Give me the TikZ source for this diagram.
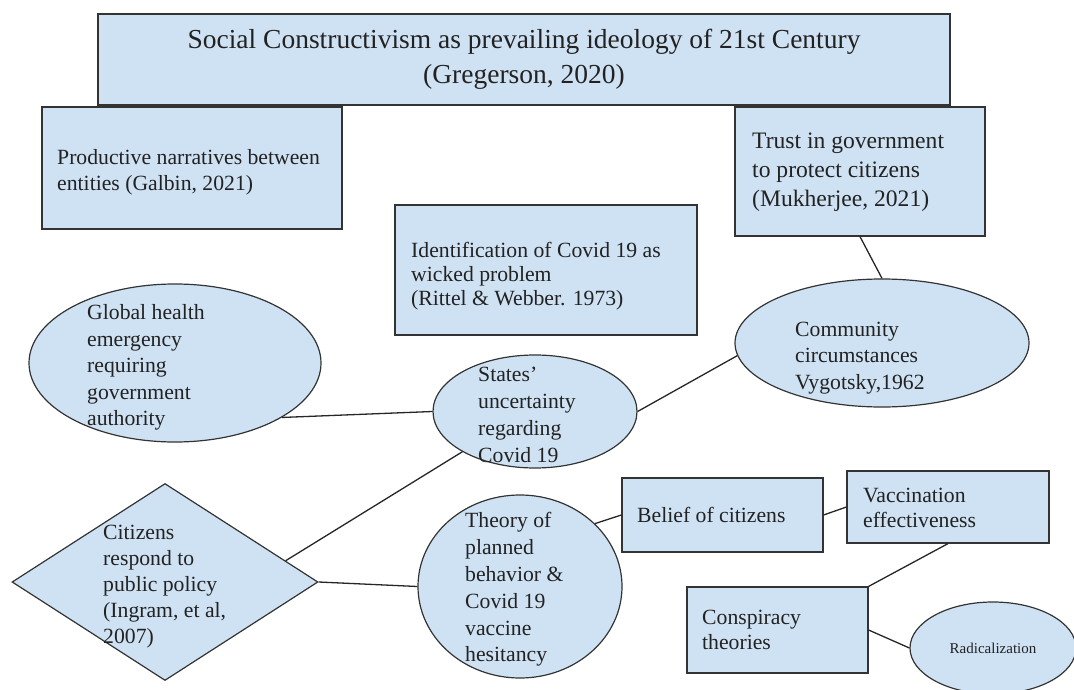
\documentclass[tikz,border=0pt]{standalone}
\usepackage{fontspec}
\setmainfont{Liberation Serif}
\usetikzlibrary{shapes.geometric}
\definecolor{fillcol}{HTML}{CFE2F3}
\definecolor{bordercol}{HTML}{333333}
\definecolor{linecol}{HTML}{262626}
\definecolor{textcol}{HTML}{222222}
\newcommand\myfs[2]{\fontsize{#1}{#2}\selectfont}
\begin{document}
\begin{tikzpicture}[x=1pt,y=-1pt,
  box/.style={rectangle,draw=bordercol,line width=1.2pt,fill=fillcol,inner sep=0pt},
  ell/.style={ellipse,draw=bordercol,line width=1.2pt,fill=fillcol,inner sep=0pt},
  dia/.style={diamond,draw=bordercol,line width=1.2pt,fill=fillcol,inner sep=0pt},
  txt/.style={anchor=north west,inner sep=0pt,align=left,text=textcol},
  conn/.style={draw=linecol,line width=1.3pt}]
\useasboundingbox (0,0) rectangle (1074,690);
% shapes
\node[box,minimum width=852pt,minimum height=91pt,align=center,text=textcol,font=\myfs{27.5}{35}] (title) at (524,59.5)
  {Social Constructivism as prevailing ideology of 21st Century\\(Gregerson, 2020)};
\node[box,minimum width=300pt,minimum height=122pt] (prod) at (192,168) {};
\node[box,minimum width=250pt,minimum height=129pt] (trust) at (860,171.5) {};
\node[box,minimum width=302pt,minimum height=130pt] (ident) at (546,270) {};
\node[ell,minimum width=292pt,minimum height=158pt] (global) at (175,363) {};
\node[ell,minimum width=204pt,minimum height=113pt] (states) at (535,411.5) {};
\node[ell,minimum width=294pt,minimum height=128pt] (community) at (882,343) {};
\node[dia,minimum width=306pt,minimum height=197pt] (citizens) at (165,582) {};
\node[ell,minimum width=204pt,minimum height=183pt] (theory) at (520,586.5) {};
\node[box,minimum width=201pt,minimum height=74pt] (belief) at (722.5,515) {};
\node[box,minimum width=202pt,minimum height=72pt] (vacc) at (948,507) {};
\node[box,minimum width=181pt,minimum height=86pt] (consp) at (777.5,630) {};
\node[ell,minimum width=166pt,minimum height=92pt,text=textcol,font=\myfs{15}{18}] (radical) at (993,648) {Radicalization};
% connectors
\draw[conn] (trust.south) -- (community.north);
\draw[conn] (global.-27.6) -- (states.west);
\draw[conn] (states.east) -- (community.185);
\draw[conn] (citizens.10.9) -- (states.209.6);
\draw[conn] (citizens.east) -- (theory.west);
\draw[conn] (theory.40.7) -- (belief.west);
\draw[conn] (belief.east) -- (vacc.west);
\draw[conn] (vacc.south) -- (consp.north east);
\draw[conn] (consp.east) -- (radical.west);
% texts
\node[txt,font=\myfs{21.7}{26}] (tprod) at (57,149.5) {Productive narratives between\\entities (Galbin, 2021)};
\node[txt,font=\myfs{23.6}{29}] (ttrust) at (752,132.5) {Trust in government\\to protect citizens\\(Mukherjee, 2021)};
\node[txt,font=\myfs{21.7}{24}] (tident) at (411,242.5) {Identification of Covid 19 as\\wicked problem\\(Rittel \& Webber. 1973)};
\node[txt,font=\myfs{21.7}{26.5}] (tglobal) at (87,304.5) {Global health\\emergency\\requiring\\government\\authority};
\node[txt,font=\myfs{21.7}{27}] (tstates) at (478,366.5) {States’\\uncertainty\\regarding\\Covid 19};
\node[txt,font=\myfs{21.7}{26.5}] (tcommunity) at (795,321.5) {Community\\circumstances\\Vygotsky,1962};
\node[txt,font=\myfs{21.7}{26}] (tcitizens) at (103,524.5) {Citizens\\respond to\\public policy\\(Ingram, et al,\\2007)};
\node[txt,font=\myfs{21.7}{26.8}] (ttheory) at (465,512.5) {Theory of\\planned\\behavior \&\\Covid 19\\vaccine\\hesitancy};
\node[txt,font=\myfs{21.7}{26}] (tbelief) at (637,507.5) {Belief of citizens};
\node[txt,font=\myfs{21.7}{25}] (tvacc) at (863,487.5) {Vaccination\\effectiveness};
\node[txt,font=\myfs{21.7}{25}] (tconsp) at (702,609.5) {Conspiracy\\theories};
\end{tikzpicture}
\end{document}
